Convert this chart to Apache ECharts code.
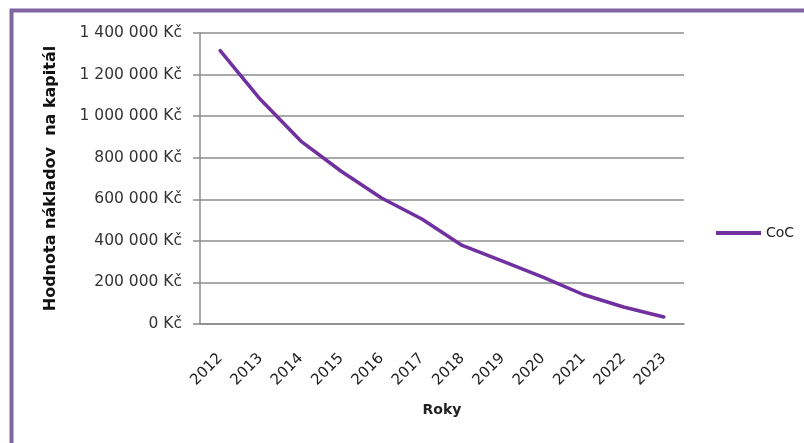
<!DOCTYPE html>
<html>
<head>
<meta charset="utf-8">
<style>
  html, body { margin: 0; padding: 0; background: #fff; }
  #chart { width: 804px; height: 443px; }
</style>
<script src="https://cdn.jsdelivr.net/npm/echarts@6/dist/echarts.min.js"></script>
</head>
<body>
<div id="chart"></div>
<script>
// Roky (years) on the category axis
const years = ['2012', '2013', '2014', '2015', '2016', '2017', '2018', '2019', '2020', '2021', '2022', '2023'];
// Hodnota nákladov na kapitál, series CoC (Kč)
const cocValues = [1315000, 1080000, 880000, 735000, 606000, 505000, 378000, 302000, 226000, 142000, 82000, 34000];
// Value axis ticks
const yTicks = [0, 200000, 400000, 600000, 800000, 1000000, 1200000, 1400000];

const seriesName = 'CoC';
const yTitle = 'Hodnota nákladov  na kapitál';
const xTitle = 'Roky';

function formatKc(v) {
  const s = String(Math.round(v)).replace(/\B(?=(\d{3})+(?!\d))/g, ' ');
  return s + ' Kč';
}

const chart = echarts.init(document.getElementById('chart'), null, { renderer: 'canvas' });

const font = 'DejaVu Sans';

chart.setOption({
  animation: false,
  backgroundColor: '#ffffff',
  graphic: [{
    type: 'rect',
    shape: { x: 11.5, y: 10.5, width: 830, height: 470 },
    style: { fill: 'none', stroke: '#7f64a2', lineWidth: 4 },
    silent: true,
    z: 100
  }],
  grid: { left: 200, top: 33, width: 484, height: 291, containLabel: false },
  legend: {
    data: [seriesName],
    left: 711,
    top: 221,
    icon: 'rect',
    itemWidth: 45,
    itemHeight: 4,
    itemGap: 0,
    textStyle: { fontFamily: font, fontSize: 14, color: '#222' }
  },
  xAxis: {
    type: 'category',
    data: years,
    boundaryGap: true,
    name: xTitle,
    nameLocation: 'middle',
    nameGap: 79,
    nameTextStyle: { fontFamily: font, fontSize: 14, fontWeight: 'bold', color: '#222' },
    axisLine: { show: true, lineStyle: { color: '#8c8c8c', width: 1.5 } },
    axisTick: { show: false },
    axisLabel: {
      rotate: 45,
      margin: 32,
      fontFamily: font,
      fontSize: 15,
      color: '#222'
    },
    splitLine: { show: false }
  },
  yAxis: {
    type: 'value',
    min: yTicks[0],
    max: yTicks[yTicks.length - 1],
    interval: yTicks[1] - yTicks[0],
    name: yTitle,
    nameLocation: 'middle',
    nameGap: 141,
    nameTextStyle: { fontFamily: font, fontSize: 16, fontWeight: 'bold', color: '#111' },
    axisLine: { show: true, lineStyle: { color: '#8c8c8c', width: 1.5 } },
    axisTick: { show: true, inside: false, length: 7, lineStyle: { color: '#8c8c8c', width: 1.5 } },
    axisLabel: {
      margin: 18,
      fontFamily: font,
      fontSize: 15.5,
      color: '#333',
      formatter: formatKc
    },
    splitLine: { show: true, lineStyle: { color: '#8c8c8c', width: 1.5 } }
  },
  series: [{
    name: seriesName,
    type: 'line',
    data: cocValues,
    symbol: 'none',
    smooth: false,
    lineStyle: { color: '#7030a0', width: 3.5, cap: 'round', join: 'round' },
    itemStyle: { color: '#7030a0' }
  }]
});
</script>
</body>
</html>
